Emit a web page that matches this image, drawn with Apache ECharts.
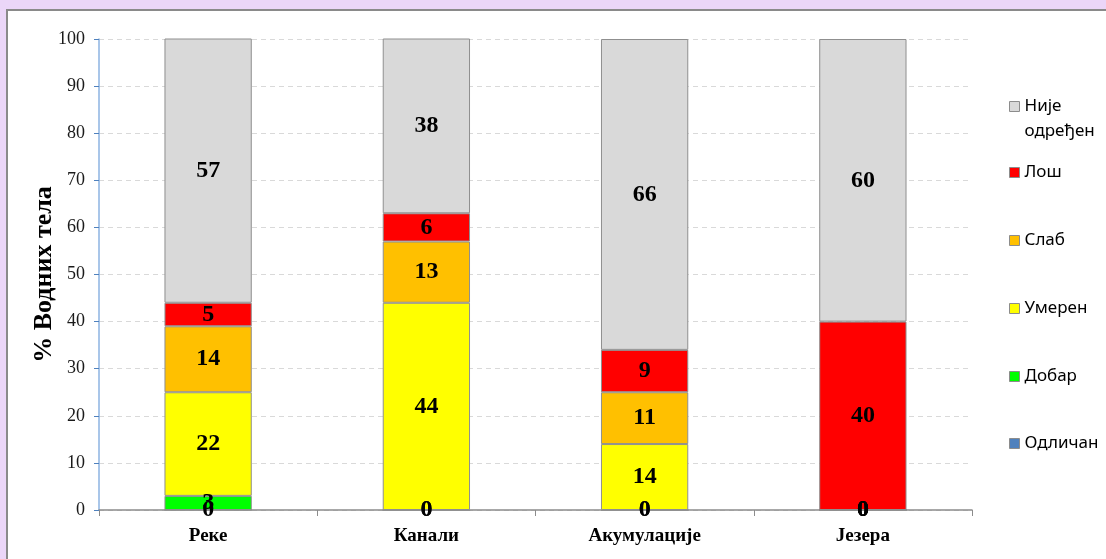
<!DOCTYPE html>
<html>
<head>
<meta charset="utf-8">
<script src="https://cdn.jsdelivr.net/npm/echarts@6/dist/echarts.min.js"></script>
<style>
  html, body { margin: 0; padding: 0; background: #ebd6f8; overflow: hidden; }
  #panel { position: absolute; left: 6px; top: 9px; width: 1200px; height: 700px;
           background: #ffffff; border: 2px solid #8a8a8a; box-sizing: border-box; }
  #chart { position: absolute; left: 0; top: 0; width: 1106px; height: 559px; }
</style>
</head>
<body>
<div id="panel"></div>
<div id="chart"></div>
<script>
// Water body categories
const categories = ['Реке', 'Канали', 'Акумулације', 'Језера'];

// Share of water bodies (%) in each ecological status class
const odlican   = [0, 0, 0, 0];
const dobar     = [3, 0, 0, 0];
const umeren    = [22, 44, 14, 0];
const slab      = [14, 13, 11, 0];
const los       = [5, 6, 9, 40];
const nijeOdr   = [57, 38, 66, 60];

const yTicks = { min: 0, max: 100, interval: 10 };

const seriesDefs = [
  { name: 'Одличан',      data: odlican, color: '#4f81bd' },
  { name: 'Добар',        data: dobar,   color: '#00ff00' },
  { name: 'Умерен',       data: umeren,  color: '#ffff00' },
  { name: 'Слаб',         data: slab,    color: '#ffc000' },
  { name: 'Лош',          data: los,     color: '#ff0000' },
  { name: 'Није одређен', data: nijeOdr, color: '#d9d9d9' }
];

const serif = '"Liberation Serif", "DejaVu Serif", serif';
const sans = '"Noto Sans", "Liberation Sans", sans-serif';

// Legend entries stacked top-to-bottom in reverse series order.
// The two-line entry gets a blank leading line so its marker sits beside the first line.
const legendTops = [64, 155, 223, 291, 359, 426];
const legendOrder = seriesDefs.slice().reverse();
const legends = legendOrder.map((s, i) => ({
  orient: 'vertical',
  left: 1004,
  top: legendTops[i],
  itemWidth: 10,
  itemHeight: 10,
  itemGap: 0,
  icon: 'rect',
  selectedMode: false,
  data: [{ name: s.name, itemStyle: { borderColor: '#8c8c8c', borderWidth: 1 } }],
  formatter: n => n === 'Није одређен' ? '\u00a0\nНије\nодређен' : n,
  textStyle: { fontFamily: sans, fontSize: 17, color: '#000', lineHeight: 25 }
}));

const chart = echarts.init(document.getElementById('chart'), null, { renderer: 'canvas' });
chart.setOption({
  animation: false,
  backgroundColor: 'transparent',
  legend: legends,
  grid: { left: 99, right: 134, top: 39, bottom: 49 },
  xAxis: {
    type: 'category',
    data: categories,
    axisLine: { lineStyle: { color: '#8c8c8c', width: 1.5 } },
    axisTick: { show: true, length: 6, lineStyle: { color: '#8c8c8c' } },
    axisLabel: { fontFamily: serif, fontWeight: 'bold', fontSize: 19, color: '#000', margin: 17 }
  },
  yAxis: {
    type: 'value',
    min: yTicks.min, max: yTicks.max, interval: yTicks.interval,
    name: '% Водних тела',
    nameLocation: 'middle',
    nameGap: 42,
    nameMoveOverlap: false,
    nameRotate: 90,
    nameTextStyle: { fontFamily: serif, fontWeight: 'bold', fontSize: 26, color: '#000' },
    axisLine: { show: true, lineStyle: { color: '#8db3e2', width: 1.5 } },
    axisTick: { show: true, length: 5, lineStyle: { color: '#4f81bd' } },
    axisLabel: { fontFamily: serif, fontSize: 18, color: '#1a1a1a', margin: 14 },
    splitLine: { lineStyle: { color: '#d9d9d9', type: [5, 4], width: 1 } }
  },
  series: seriesDefs.map(s => ({
    name: s.name,
    type: 'bar',
    stack: 'total',
    barWidth: '40%',
    data: s.data,
    itemStyle: { color: s.color, borderColor: '#8f8f8f', borderWidth: 1 },
    label: {
      show: true,
      position: 'inside',
      fontFamily: serif,
      fontWeight: 'bold',
      fontSize: 24,
      color: '#000'
    }
  }))
});
</script>
</body>
</html>
